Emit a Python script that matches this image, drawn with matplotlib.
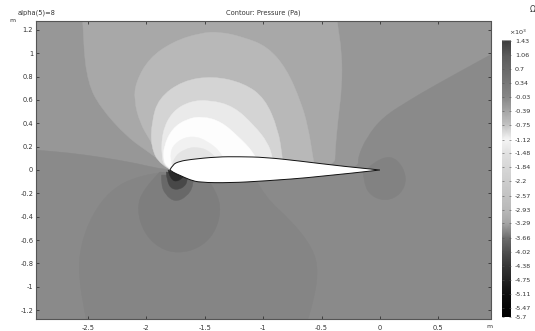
import numpy as np
import matplotlib
matplotlib.use("Agg")
import matplotlib.pyplot as plt
from matplotlib.path import Path
from matplotlib.patches import PathPatch

W, H = 535, 331
plt.rcParams['font.family'] = ['DejaVu Sans']

x_ticks = [-2.5, -2, -1.5, -1, -0.5, 0, 0.5]
x_labels = ['-2.5', '-2', '-1.5', '-1', '-0.5', '0', '0.5']
y_ticks = [1.2, 1, 0.8, 0.6, 0.4, 0.2, 0, -0.2, -0.4, -0.6, -0.8, -1, -1.2]
y_labels = ['1.2', '1', '0.8', '0.6', '0.4', '0.2', '0', '-0.2', '-0.4', '-0.6', '-0.8', '-1', '-1.2']

cb_values = [1.43, 1.06, 0.7, 0.34, -0.03, -0.39, -0.75, -1.12, -1.48, -1.84, -2.2,
             -2.57, -2.93, -3.29, -3.66, -4.02, -4.38, -4.75, -5.11, -5.47, -5.7]
cb_labels = ['1.43', '1.06', '0.7', '0.34', '-0.03', '-0.39', '-0.75', '-1.12', '-1.48', '-1.84', '-2.2',
             '-2.57', '-2.93', '-3.29', '-3.66', '-4.02', '-4.38', '-4.75', '-5.11', '-5.47', '-5.7']
cb_gray = [60, 90, 105, 120, 135, 165, 195, 245, 225, 215, 205, 195, 185, 165, 110, 80, 55, 35, 15, 5, 0]

gray_upper = 151
gray_lower = 138

# Contour bands: (x, y) in metres, with grey level
lower_x = [-3.1, -2.945, -2.654, -2.397, -2.098, -1.841, -1.541, -0.685, -0.257, -0.18, -0.188, -0.111, 0.026, 0.257, 0.445, 0.942, 1.54, 3.0, 3.0, 3.0, 1.0, -3.2, -3.2]
lower_y = [0.185, 0.171, 0.146, 0.111, 0.06, 0, -0.017, 0, 0.017, 0.043, 0.111, 0.283, 0.454, 0.6, 0.711, 0.985, 1.31, 1.5, 0, -3.0, -3.0, -3.0, -1.6]
band2_x = [-2.55, -2.543, -2.5, -2.397, -2.166, -1.969, -1.858, -1.755, -0.685, -0.385, -0.385, -0.36, -0.325, -0.325, -0.368, -0.385]
band2_y = [1.457, 1.088, 0.745, 0.54, 0.283, 0.146, 0.06, -0.017, 0, 0.043, 0.146, 0.428, 0.711, 1.003, 1.277, 1.457]
band3_x = [-1.755, -1.884, -1.969, -2.055, -2.105, -2.09, -1.975, -1.772, -1.541, -1.37, -1.173, -0.965, -0.8, -0.675, -0.615, -0.574, -0.557, -1.113]
band3_y = [-0.017, 0.111, 0.257, 0.403, 0.6, 0.755, 0.96, 1.1, 1.175, 1.185, 1.14, 1.06, 0.87, 0.58, 0.368, 0.111, 0.017, -0.017]
band4_x = [-1.755, -1.884, -1.96, -1.955, -1.895, -1.69, -1.43, -1.165, -0.985, -0.872, -0.835, -0.83, -1.284]
band4_y = [-0.017, 0.043, 0.197, 0.41, 0.615, 0.765, 0.805, 0.745, 0.615, 0.35, 0.111, 0.017, -0.017]
band5_x = [-1.755, -1.841, -1.87, -1.865, -1.78, -1.627, -1.455, -1.25, -1.075, -0.96, -0.92, -0.908, -1.284]
band5_y = [-0.017, 0.026, 0.111, 0.325, 0.5, 0.59, 0.6, 0.545, 0.38, 0.235, 0.111, 0.017, -0.017]
band6_x = [-1.755, -1.824, -1.855, -1.85, -1.78, -1.652, -1.515, -1.36, -1.215, -1.08, -1.04, -1.284]
band6_y = [-0.017, 0.026, 0.086, 0.205, 0.355, 0.44, 0.46, 0.415, 0.29, 0.15, 0.043, -0.017]
inner1_x = [-1.78, -1.805, -1.735, -1.61, -1.475, -1.345, -1.32]
inner1_y = [0.043, 0.15, 0.25, 0.295, 0.25, 0.135, 0.043]
inner2_x = [-1.78, -1.76, -1.67, -1.567, -1.45, -1.39]
inner2_y = [0.043, 0.115, 0.18, 0.2, 0.16, 0.086]
lobe_x = [-1.841, -2.055, -2.312, -2.49, -2.575, -2.575, -2.53, -2.483, -0.685, -0.634, -0.578, -0.525, -0.575, -0.765, -0.98, -1.07]
lobe_y = [-0.017, -0.043, -0.171, -0.428, -0.711, -0.943, -1.2, -1.457, -1.5, -1.328, -1.157, -0.874, -0.668, -0.428, -0.24, -0.069]
circle_x = [-1.884, -2.035, -2.08, -2.02, -1.89, -1.729, -1.55, -1.42, -1.36, -1.395, -1.498]
circle_y = [-0.017, -0.171, -0.343, -0.54, -0.67, -0.715, -0.67, -0.55, -0.36, -0.189, -0.043]
dark1_x = [-1.87, -1.875, -1.84, -1.755, -1.655, -1.595, -1.595]
dark1_y = [-0.043, -0.115, -0.21, -0.275, -0.23, -0.135, -0.043]
dark2_x = [-1.83, -1.825, -1.78, -1.69, -1.64, -1.66]
dark2_y = [-0.017, -0.095, -0.17, -0.16, -0.09, -0.034]
dark3_x = [-1.815, -1.795, -1.729, -1.685]
dark3_y = [0, -0.08, -0.105, -0.06]
te_x = [-0.103, 0.017, 0.155, 0.235, 0.18, 0.043, -0.095, -0.14, -0.145]
te_y = [0.017, 0.12, 0.095, -0.069, -0.21, -0.27, -0.21, -0.086, 0]

foil_top_x = [-1.798, -1.775, -1.715, -1.627, -1.396, -1.199, -0.985, -0.685, -0.342, 0]
foil_top_y = [0, 0.048, 0.074, 0.09, 0.113, 0.114, 0.109, 0.077, 0.034, 0]
foil_bot_x = [0, -0.531, -0.985, -1.284, -1.541, -1.627, -1.712, -1.772, -1.798]
foil_bot_y = [0, -0.06, -0.094, -0.11, -0.107, -0.085, -0.046, -0.02, 0]

bands = [(lower_x, lower_y, gray_lower), (band2_x, band2_y, 168), (band3_x, band3_y, 184),
         (band4_x, band4_y, 212), (band5_x, band5_y, 234), (band6_x, band6_y, 253),
         (inner1_x, inner1_y, 241), (inner2_x, inner2_y, 228), (lobe_x, lobe_y, 133),
         (circle_x, circle_y, 126), (dark1_x, dark1_y, 104), (dark2_x, dark2_y, 72),
         (dark3_x, dark3_y, 42), (te_x, te_y, 130)]


def chain(xs, ys):
    pts = np.column_stack([xs, ys])
    verts, codes = [], []
    for i in range(1, len(pts) - 1):
        end = pts[i + 1] if i == len(pts) - 2 else (pts[i] + pts[i + 1]) / 2
        verts += [pts[i], end]
        codes += [Path.CURVE3, Path.CURVE3]
    return pts[0], verts, codes


def smooth_path(*arcs):
    start = None
    verts, codes = [], []
    for xs, ys in arcs:
        p0, v, c = chain(xs, ys)
        if start is None:
            start = p0
            verts, codes = [p0], [Path.MOVETO]
        verts += v
        codes += c
    verts.append(start)
    codes.append(Path.CLOSEPOLY)
    return Path(verts, codes)


fig = plt.figure(figsize=(W / 100, H / 100), dpi=100, facecolor='white')
ax = fig.add_axes([36 / W, 1 - 319 / H, (490.5 - 36) / W, (319 - 21) / H])
ax.set_xlim(-2.945, 0.947)
ax.set_ylim(-1.277, 1.277)
ax.set_facecolor(str(gray_upper / 255))

for bx, by, g in bands:
    c = str(g / 255)
    ax.add_patch(PathPatch(smooth_path((bx, by)), facecolor=c, edgecolor=c, lw=0.3))
ax.add_patch(PathPatch(smooth_path((foil_top_x, foil_top_y), (foil_bot_x, foil_bot_y)),
                       facecolor='white', edgecolor='#111111', lw=0.7, zorder=5))

ax.set_xticks(x_ticks, x_labels)
ax.set_yticks(y_ticks, y_labels)
ax.tick_params(axis='both', direction='in', length=2.5, width=0.6, color='#333333',
               labelsize=4.8, labelcolor='#333333', top=True, right=True)
ax.tick_params(axis='x', pad=4.5)
ax.tick_params(axis='y', pad=2)
for s in ax.spines.values():
    s.set_linewidth(0.8)
    s.set_color('#555555')

cax = fig.add_axes([501.7 / W, 1 - 316.7 / H, 9 / W, (316.7 - 39) / H])
vals = np.array(cb_values)
grid = np.array(cb_gray, dtype=float)[:, None].repeat(2, axis=1)
cax.pcolormesh([0, 1], vals, grid, cmap='gray', vmin=0, vmax=255, shading='gouraud')
cax.set_xlim(0, 1)
cax.set_ylim(-5.7, 1.48)
cax.set_xticks([])
cax.yaxis.tick_right()
cax.set_yticks(cb_values, cb_labels)
cax.tick_params(axis='y', direction='in', length=1.5, width=0.4, left=True, right=True,
                color='#555555', labelsize=4.6, labelcolor='#333333', pad=3)
for s in cax.spines.values():
    s.set_visible(False)


def ftext(px, py, s, **kw):
    fig.text(px / W, 1 - py / H, s, va='center', color='#333333', **kw)


ftext(18, 12.5, 'alpha(5)=8', fontsize=4.8, ha='left')
ftext(263, 12.5, 'Contour: Pressure (Pa)', fontsize=4.8, ha='center')
ftext(12.5, 21, 'm', fontsize=4.5, ha='center')
ftext(489.5, 327, 'm', fontsize=4.5, ha='center')
ftext(518, 32, '×10$^{3}$', fontsize=4.6, ha='center')
ftext(529.5, 9.5, 'Ω', fontsize=5.5, ha='left')

fig.savefig('out.png', dpi=100)
